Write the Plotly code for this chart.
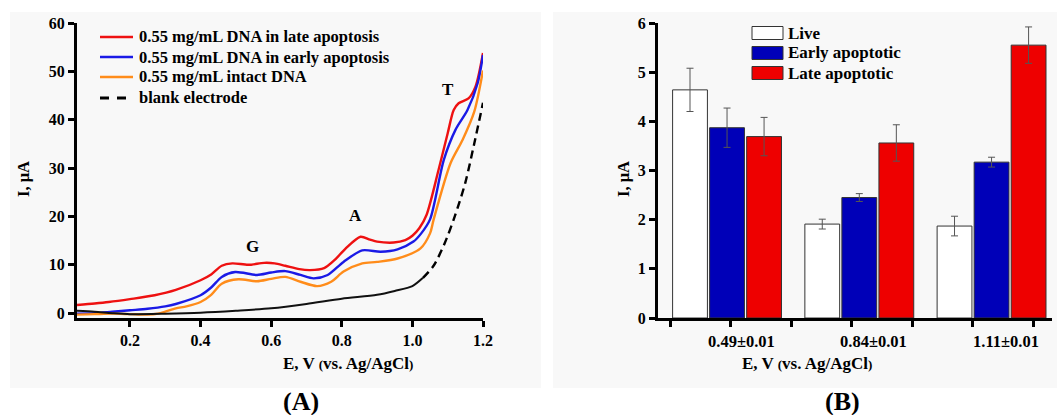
import plotly.graph_objects as go

W, H = 1057, 415
SERIF = "Liberation Serif"

# ---------------- Panel A: differential pulse voltammograms ----------------
late_E = [0.05, 0.10, 0.14, 0.20, 0.27, 0.33, 0.40, 0.43, 0.46, 0.49, 0.535, 0.58,
          0.61, 0.64, 0.68, 0.71, 0.75, 0.78, 0.81, 0.853, 0.88, 0.90, 0.947, 0.98,
          1.00, 1.02, 1.04, 1.074, 1.10, 1.117, 1.131, 1.159, 1.179, 1.20]
late_I = [1.7, 2.0, 2.3, 2.9, 3.7, 4.8, 6.8, 8.0, 9.8, 10.3, 10.0, 10.4,
          10.3, 9.8, 9.1, 8.9, 9.3, 11.0, 13.3, 15.8, 15.2, 14.8, 14.6, 15.1,
          16.0, 17.6, 20.3, 29.6, 37.2, 42.0, 43.4, 44.4, 46.9, 53.8]

early_E = [0.05, 0.10, 0.15, 0.20, 0.25, 0.30, 0.33, 0.40, 0.43, 0.46, 0.498, 0.56,
           0.60, 0.64, 0.683, 0.72, 0.76, 0.805, 0.858, 0.91, 0.958, 1.003, 1.025,
           1.05, 1.089, 1.122, 1.156, 1.185, 1.20]
early_I = [-0.1, 0.0, 0.3, 0.6, 0.9, 1.4, 1.9, 3.7, 5.3, 7.5, 8.5, 7.9,
           8.4, 8.7, 7.9, 7.2, 7.9, 10.6, 13.0, 12.7, 13.2, 14.8, 16.5,
           19.4, 31.7, 37.9, 42.0, 47.6, 53.4]

intact_E = [0.05, 0.10, 0.15, 0.20, 0.25, 0.28, 0.30, 0.33, 0.36, 0.40, 0.43, 0.46,
            0.507, 0.56, 0.60, 0.64, 0.683, 0.73, 0.77, 0.805, 0.858, 0.90, 0.958,
            1.023, 1.05, 1.06, 1.108, 1.142, 1.175, 1.20]
intact_I = [-0.3, -0.2, -0.1, -0.2, -0.3, -0.1, 0.3, 1.0, 1.4, 2.3, 3.8, 6.1,
            7.0, 6.6, 7.1, 7.5, 6.5, 5.6, 6.5, 8.6, 10.3, 10.6, 11.3,
            13.4, 16.5, 19.3, 31.0, 35.8, 41.6, 50.2]

blank_E = [0.05, 0.10, 0.15, 0.20, 0.30, 0.40, 0.50, 0.60, 0.70, 0.80, 0.90, 0.95,
           1.00, 1.03, 1.06, 1.09, 1.12, 1.15, 1.175, 1.20]
blank_I = [0.5, 0.3, 0.0, -0.2, -0.1, 0.1, 0.5, 1.0, 1.9, 3.0, 3.8, 4.6,
           5.6, 7.3, 9.8, 14.2, 20.0, 27.0, 35.0, 43.5]

dpv_names = ["0.55 mg/mL DNA in late apoptosis", "0.55 mg/mL DNA in early apoptosis",
             "0.55 mg/mL intact DNA", "blank electrode"]
dpv_colors = ["#ee1111", "#1a1ae6", "#ff8c1a", "#000000"]
peak_names = ["G", "A", "T"]
peak_E = [0.546, 0.839, 1.102]
peak_I = [13.7, 20.1, 46.2]

# ---------------- Panel B: peak currents ----------------
peak_groups = ["0.49±0.01", "0.84±0.01", "1.11±0.01"]
cell_names = ["Live", "Early apoptotic", "Late apoptotic"]
live_I = [4.64, 1.91, 1.87]
live_err = [0.44, 0.10, 0.20]
early_apo_I = [3.87, 2.45, 3.17]
early_apo_err = [0.40, 0.08, 0.10]
late_apo_I = [3.69, 3.56, 5.55]
late_apo_err = [0.39, 0.37, 0.37]
bar_colors = ["#ffffff", "#0000b8", "#ee0000"]


def px(x):
    return x / W


def py(y):
    return 1 - y / H


fig = go.Figure()

# voltammograms
for E, I, name, col in [(late_E, late_I, dpv_names[0], dpv_colors[0]),
                        (early_E, early_I, dpv_names[1], dpv_colors[1]),
                        (intact_E, intact_I, dpv_names[2], dpv_colors[2])]:
    fig.add_trace(go.Scatter(x=E, y=I, mode="lines", name=name, showlegend=False,
                             line=dict(color=col, width=2.4, shape="spline", smoothing=0.8),
                             xaxis="x", yaxis="y"))

# blank: dense, flat part looks continuous; the steep rise shows as dashes
split = blank_E.index(1.03)
fig.add_trace(go.Scatter(x=blank_E[:split + 1], y=blank_I[:split + 1], mode="lines",
                         showlegend=False,
                         line=dict(color="#111111", width=2, shape="spline", smoothing=0.8),
                         xaxis="x", yaxis="y"))
fig.add_trace(go.Scatter(x=blank_E[split:], y=blank_I[split:], mode="lines",
                         name=dpv_names[3], showlegend=False,
                         line=dict(color="#000000", width=2.4, dash="8px,5px",
                                   shape="spline", smoothing=0.8),
                         xaxis="x", yaxis="y"))

# bars
x_idx = list(range(len(peak_groups)))
for vals, errs, name, col in [(live_I, live_err, cell_names[0], bar_colors[0]),
                              (early_apo_I, early_apo_err, cell_names[1], bar_colors[1]),
                              (late_apo_I, late_apo_err, cell_names[2], bar_colors[2])]:
    fig.add_trace(go.Bar(x=x_idx, y=vals, name=name, showlegend=False,
                         marker=dict(color=col, line=dict(color="#333333", width=1)),
                         error_y=dict(type="data", array=errs, color="#555555",
                                      thickness=1, width=3.5),
                         xaxis="x2", yaxis="y2"))

axis_common = dict(showline=True, linewidth=3, linecolor="black", ticks="outside",
                   ticklen=6, tickwidth=3, tickcolor="black", showgrid=False,
                   zeroline=False, automargin=False,
                   tickfont=dict(family=SERIF, size=16, color="black", weight="bold"))

fig.update_layout(
    template="none",
    width=W, height=H, margin=dict(l=0, r=0, t=0, b=0, pad=0, autoexpand=False),
    paper_bgcolor="white", plot_bgcolor="rgba(0,0,0,0)", showlegend=False,
    barmode="group", bargap=0.16, bargroupgap=0.06,
    xaxis=dict(domain=[px(77), px(483)], range=[0.05, 1.2], tickmode="linear",
               tick0=0.2, dtick=0.2, tickformat=".1f", anchor="y", **axis_common),
    yaxis=dict(domain=[py(318), py(23)], range=[-1, 60], tickmode="linear",
               tick0=0, dtick=10, anchor="x", **axis_common),
    xaxis2=dict(domain=[px(658), px(1052)], range=[-0.522, 2.457], tickmode="linear",
                tick0=-0.431, dtick=0.4575, showticklabels=False, anchor="y2",
                **axis_common),
    yaxis2=dict(domain=[py(318), py(23)], range=[0, 6], tickmode="linear",
                tick0=0, dtick=1, anchor="x2", **axis_common),
)

shapes = [
    dict(type="rect", xref="paper", yref="paper", x0=px(10), x1=px(541), y0=py(388),
         y1=py(12), fillcolor="#f8f8f8", line=dict(width=0), layer="below"),
    dict(type="rect", xref="paper", yref="paper", x0=px(553), x1=px(1057), y0=py(388),
         y1=py(12), fillcolor="#f8f8f8", line=dict(width=0), layer="below"),
]
ann = []
bold = dict(family=SERIF, color="black", weight="bold")

# legend of panel A
rows_a = [37, 57, 77, 98]
for i, (name, col) in enumerate(zip(dpv_names, dpv_colors)):
    shapes.append(dict(type="line", xref="paper", yref="paper", x0=px(100), x1=px(133),
                       y0=py(rows_a[i]), y1=py(rows_a[i]),
                       line=dict(color=col, width=2.4 if i < 3 else 3,
                                 dash="solid" if i < 3 else "9px,8px")))
    ann.append(dict(xref="paper", yref="paper", x=px(137), y=py(rows_a[i]), text=name,
                    showarrow=False, xanchor="left", yanchor="middle",
                    font=dict(size=16.5, **bold)))

# legend of panel B
rows_b = [33, 53, 73]
for i, (name, col) in enumerate(zip(cell_names, bar_colors)):
    shapes.append(dict(type="rect", xref="paper", yref="paper", x0=px(752), x1=px(783),
                       y0=py(rows_b[i] + 6.5), y1=py(rows_b[i] - 6.5), fillcolor=col,
                       line=dict(color="#333333", width=1)))
    ann.append(dict(xref="paper", yref="paper", x=px(786), y=py(rows_b[i]), text=name,
                    showarrow=False, xanchor="left", yanchor="middle",
                    font=dict(size=17, **bold)))

# peak labels
for name, e, i in zip(peak_names, peak_E, peak_I):
    ann.append(dict(xref="x", yref="y", x=e, y=i, text=name, showarrow=False,
                    font=dict(size=17, **bold)))

# category labels of panel B
for k, g in enumerate(peak_groups):
    ann.append(dict(xref="x2", yref="paper", x=k + 0.11, y=py(341), text=g,
                    showarrow=False, yanchor="middle", font=dict(size=16.5, **bold)))

xtitle = "E, V <span style='font-size:13px'>(</span>vs. Ag/AgCl<span style='font-size:13px'>)</span>"
for cx in [281, 874]:
    ann.append(dict(xref="paper", yref="paper", x=px(cx), y=py(363), text=xtitle,
                    showarrow=False, yanchor="middle", font=dict(size=17, **bold)))
for cx in [23, 623]:
    ann.append(dict(xref="paper", yref="paper", x=px(cx), y=py(179), text="I, μA",
                    showarrow=False, textangle=-90, xanchor="center", yanchor="middle",
                    font=dict(size=16.5, **bold)))
for cx, lab in [(281, "(A)"), (862, "(B)")]:
    ann.append(dict(xref="paper", yref="paper", x=px(cx), y=py(401), text=lab,
                    showarrow=False, yanchor="middle", font=dict(size=26, **bold)))

fig.update_layout(shapes=shapes, annotations=ann)
fig.write_html("out.html")
